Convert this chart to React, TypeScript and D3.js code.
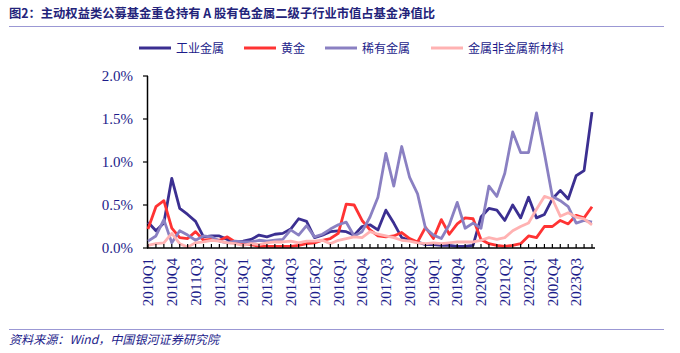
import React, { useEffect, useRef } from "react";
import * as d3 from "d3";

// 2010Q1 .. 2024Q1, one point per quarter
const quarters: string[] = d3.range(57).map((i) => `${2010 + Math.floor(i / 4)}Q${(i % 4) + 1}`);

// labels shown every 3 quarters (the "2002Q4" typo is in the source)
const tickLabels = [
  "2010Q1", "2010Q4", "2011Q3", "2012Q2", "2013Q1", "2013Q4", "2014Q3",
  "2015Q2", "2016Q1", "2016Q4", "2017Q3", "2018Q2", "2019Q1", "2019Q4",
  "2020Q3", "2021Q2", "2022Q1", "2002Q4", "2023Q3",
];

const yTicks = [0, 0.5, 1.0, 1.5, 2.0];

// values in %
const industrial = [
  0.30, 0.20, 0.29, 0.81, 0.46, 0.39, 0.31, 0.13, 0.14, 0.14, 0.10, 0.07, 0.08, 0.10,
  0.15, 0.13, 0.16, 0.17, 0.22, 0.34, 0.31, 0.12, 0.15, 0.19, 0.20, 0.19, 0.15, 0.25,
  0.27, 0.21, 0.44, 0.29, 0.12, 0.09, 0.07, 0.04, 0.04, 0.03, 0.03, 0.02, 0.02, 0.03,
  0.36, 0.46, 0.44, 0.32, 0.50, 0.35, 0.59, 0.35, 0.39, 0.57, 0.67, 0.57, 0.84, 0.90, 1.58,
];
const gold = [
  0.22, 0.48, 0.55, 0.23, 0.12, 0.11, 0.19, 0.09, 0.10, 0.09, 0.13, 0.07, 0.05, 0.04,
  0.02, 0.02, 0.02, 0.02, 0.02, 0.03, 0.05, 0.06, 0.09, 0.11, 0.17, 0.51, 0.50, 0.32,
  0.21, 0.14, 0.13, 0.14, 0.18, 0.11, 0.07, 0.24, 0.11, 0.33, 0.16, 0.28, 0.35, 0.34,
  0.10, 0.05, 0.03, 0.02, 0.03, 0.05, 0.14, 0.12, 0.25, 0.25, 0.32, 0.28, 0.38, 0.35, 0.48,
];
const rare = [
  0.08, 0.14, 0.33, 0.06, 0.20, 0.15, 0.09, 0.14, 0.13, 0.08, 0.06, 0.08, 0.07, 0.07,
  0.09, 0.08, 0.09, 0.10, 0.21, 0.15, 0.26, 0.13, 0.16, 0.22, 0.27, 0.30, 0.14, 0.19,
  0.36, 0.59, 1.10, 0.72, 1.18, 0.82, 0.63, 0.23, 0.15, 0.11, 0.27, 0.53, 0.23, 0.29,
  0.23, 0.72, 0.60, 0.87, 1.35, 1.11, 1.11, 1.57, 1.10, 0.60, 0.55, 0.48, 0.29, 0.32, 0.30,
];
const newMaterials = [
  0.03, 0.05, 0.06, 0.17, 0.05, 0.01, 0.06, 0.07, 0.09, 0.08, 0.06, 0.05, 0.03, 0.05,
  0.04, 0.06, 0.07, 0.07, 0.08, 0.06, 0.08, 0.08, 0.09, 0.05, 0.09, 0.11, 0.13, 0.12,
  0.19, 0.16, 0.14, 0.12, 0.09, 0.08, 0.06, 0.05, 0.06, 0.05, 0.06, 0.07, 0.07, 0.07,
  0.09, 0.12, 0.10, 0.12, 0.20, 0.25, 0.29, 0.45, 0.60, 0.57, 0.37, 0.41, 0.36, 0.34, 0.27,
];

const seriesNames = ["工业金属", "黄金", "稀有金属", "金属非金属新材料"];
const seriesValues = [industrial, gold, rare, newMaterials];
const colors = ["#3b2f91", "#ff3333", "#8a80c2", "#ffb2b2"];

const navy = "#1c1c8a";
const serif = "'Liberation Serif', 'Noto Sans CJK SC', serif";
const cjk = "'Noto Sans CJK SC', sans-serif";

export default function App() {
  const ref = useRef<SVGSVGElement>(null);

  useEffect(() => {
    const width = 680,
      height = 353;
    const svg = d3.select(ref.current);
    svg.selectAll("*").remove();
    svg.attr("width", width).attr("height", height);

    // header
    svg
      .append("text")
      .attr("x", 9)
      .attr("y", 18)
      .attr("font-family", cjk)
      .attr("font-weight", "bold")
      .attr("font-size", 12.5)
      .attr("fill", "#23237a")
      .attr("textLength", 426)
      .attr("lengthAdjust", "spacingAndGlyphs")
      .text("图2：主动权益类公募基金重仓持有 A 股有色金属二级子行业市值占基金净值比");
    svg.append("line").attr("x1", 9).attr("x2", 664).attr("y1", 26.5).attr("y2", 26.5)
      .attr("stroke", "#9b98d4").attr("stroke-width", 1);

    // footer
    svg.append("line").attr("x1", 9).attr("x2", 664).attr("y1", 329.5).attr("y2", 329.5)
      .attr("stroke", "#9b98d4").attr("stroke-width", 1);
    svg
      .append("text")
      .attr("x", 9)
      .attr("y", 344)
      .attr("font-family", cjk)
      .attr("font-style", "italic")
      .attr("font-size", 12)
      .attr("fill", navy)
      .attr("textLength", 210)
      .attr("lengthAdjust", "spacingAndGlyphs")
      .text("资料来源：Wind，中国银河证券研究院");

    // scales
    const x = d3.scalePoint<string>().domain(quarters).range([148, 592]);
    const y = d3.scaleLinear().domain([0, 2]).range([248, 76]);

    // legend
    const legendX = [139, 244, 325, 431];
    const lg = svg.append("g");
    seriesNames.forEach((name, i) => {
      lg.append("line").attr("x1", legendX[i]).attr("x2", legendX[i] + 32)
        .attr("y1", 48).attr("y2", 48).attr("stroke", colors[i]).attr("stroke-width", 3);
      lg.append("text").attr("x", legendX[i] + 37).attr("y", 52.5)
        .attr("font-family", cjk).attr("font-size", 12).attr("fill", navy).text(name);
    });

    // y axis
    const g = svg.append("g");
    g.append("line").attr("x1", 147.5).attr("x2", 147.5).attr("y1", y(2)).attr("y2", y(0))
      .attr("stroke", "#000").attr("stroke-width", 1.5);
    yTicks.forEach((t) => {
      g.append("line").attr("x1", 143).attr("x2", 148).attr("y1", y(t)).attr("y2", y(t))
        .attr("stroke", "#000").attr("stroke-width", 1.2);
      g.append("text").attr("x", 133).attr("y", y(t)).attr("dy", "0.35em")
        .attr("text-anchor", "end").attr("font-family", serif).attr("font-size", 15)
        .attr("fill", navy).text(`${t.toFixed(1)}%`);
    });

    // series
    const line = d3
      .line<number>()
      .x((_, i) => x(quarters[i]) as number)
      .y((d) => y(d));
    seriesValues.forEach((vals, i) => {
      g.append("path").attr("d", line(vals)).attr("fill", "none")
        .attr("stroke", colors[i]).attr("stroke-width", 2.8)
        .attr("stroke-linejoin", "round");
    });

    // x axis
    g.append("line").attr("x1", 147).attr("x2", 595).attr("y1", 248).attr("y2", 248)
      .attr("stroke", "#000").attr("stroke-width", 1.5);
    quarters.forEach((q) => {
      g.append("line").attr("x1", x(q) as number).attr("x2", x(q) as number)
        .attr("y1", 248).attr("y2", 244).attr("stroke", "#000").attr("stroke-width", 1.2);
    });
    tickLabels.forEach((lab, k) => {
      const px = x(quarters[k * 3]) as number;
      g.append("text")
        .attr("transform", `translate(${px},258) rotate(-90)`)
        .attr("dy", "0.35em")
        .attr("text-anchor", "end")
        .attr("font-family", serif)
        .attr("font-size", 15)
        .attr("fill", navy)
        .text(lab);
    });
  }, []);

  return <svg ref={ref} style={{ position: "absolute", left: 0, top: 0 }}></svg>;
}
